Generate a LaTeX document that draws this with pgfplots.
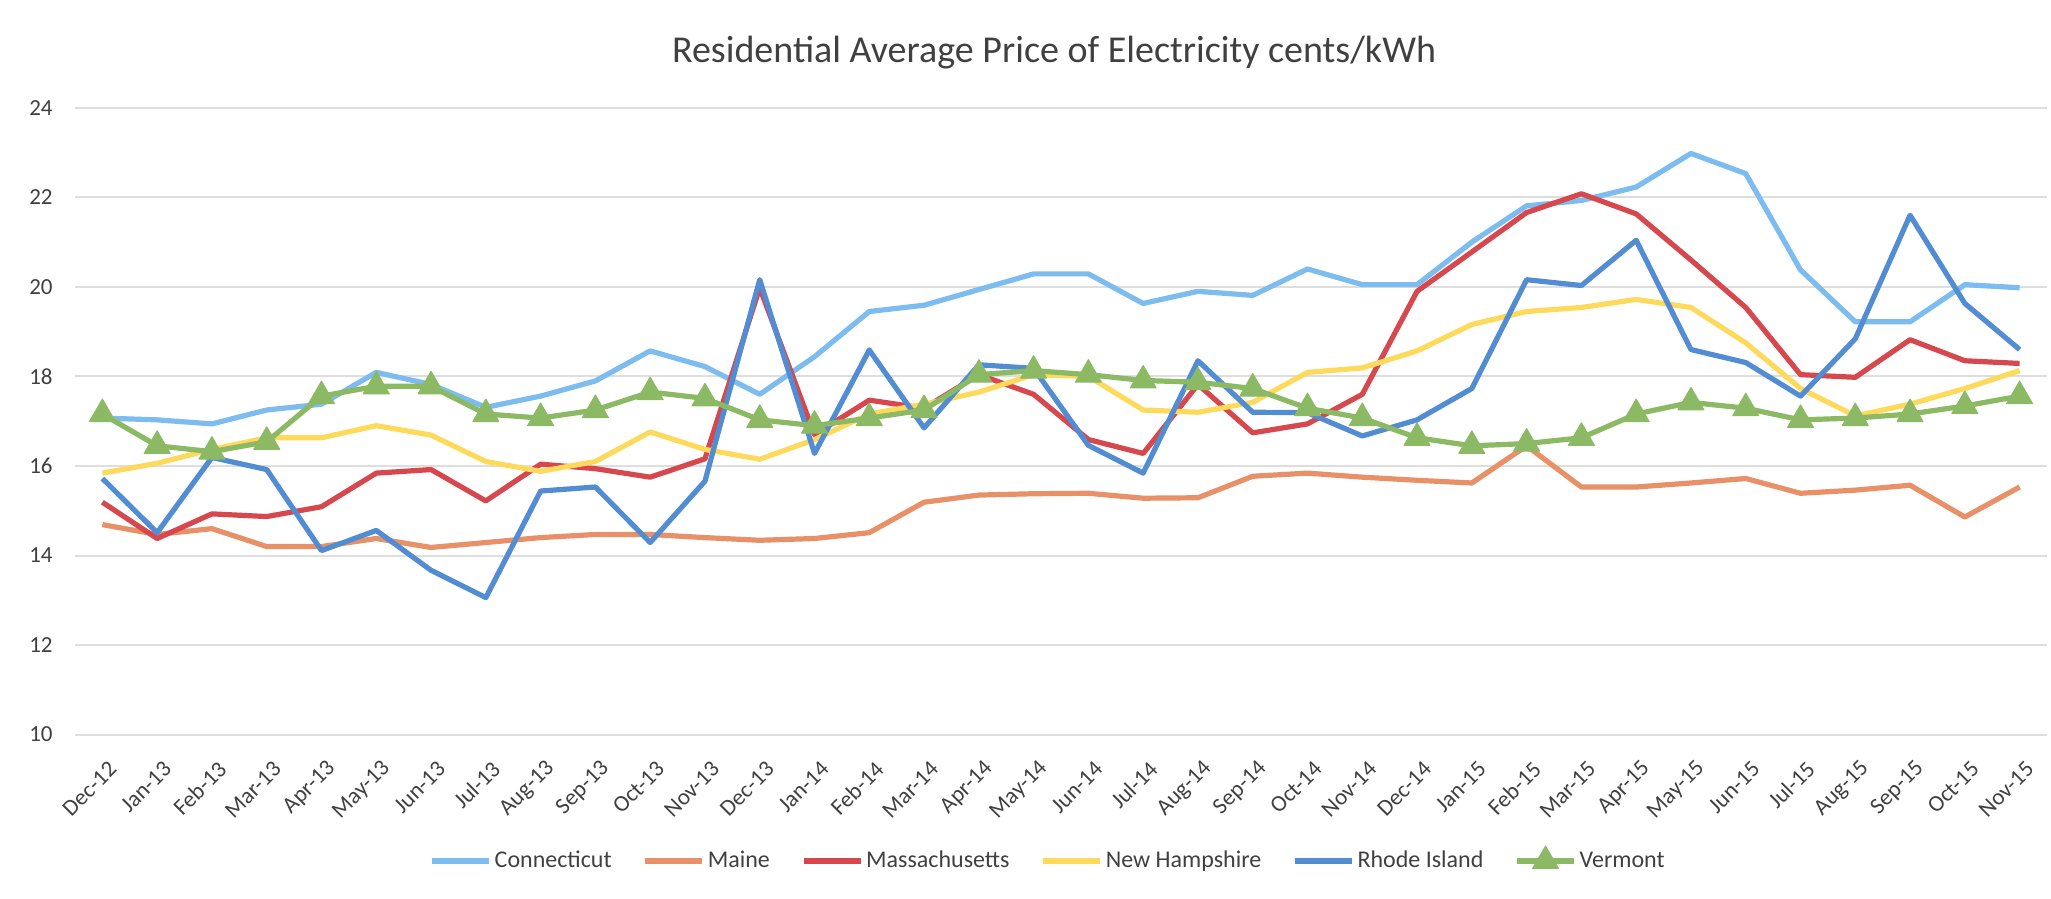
\documentclass[border=0pt]{standalone}
\usepackage{pgfplots}
\pgfplotsset{compat=1.18}
\usepackage{pgfplotstable}
\usepackage{fontspec}
\setmainfont{Carlito}
\definecolor{ct}{RGB}{125,188,238}
\definecolor{me}{RGB}{232,145,105}
\definecolor{ma}{RGB}{214,72,78}
\definecolor{nh}{RGB}{254,218,92}
\definecolor{ri}{RGB}{82,140,210}
\definecolor{vt}{RGB}{140,185,100}
\definecolor{gridc}{RGB}{222,222,222}
\definecolor{txt}{RGB}{64,64,64}
\pgfplotstableread{
i CT ME MA NH RI VT
0 17.07 14.69 15.19 15.84 15.72 17.16
1 17.03 14.47 14.38 16.06 14.51 16.45
2 16.94 14.60 14.93 16.37 16.19 16.32
3 17.25 14.20 14.87 16.63 15.92 16.54
4 17.38 14.20 15.09 16.63 14.11 17.56
5 18.09 14.38 15.84 16.90 14.56 17.78
6 17.82 14.18 15.92 16.69 13.67 17.78
7 17.31 14.29 15.22 16.10 13.06 17.16
8 17.56 14.40 16.04 15.88 15.44 17.07
9 17.90 14.47 15.94 16.10 15.53 17.25
10 18.57 14.47 15.75 16.76 14.29 17.65
11 18.22 14.40 16.16 16.37 15.66 17.51
12 17.60 14.34 19.98 16.15 20.16 17.03
13 18.44 14.38 16.70 16.59 16.28 16.90
14 19.45 14.51 17.47 17.16 18.59 17.07
15 19.59 15.19 17.29 17.38 16.85 17.25
16 19.94 15.35 18.04 17.65 18.26 18.04
17 20.29 15.38 17.60 18.04 18.18 18.13
18 20.29 15.39 16.59 18.00 16.46 18.04
19 19.63 15.28 16.28 17.25 15.84 17.91
20 19.90 15.29 17.82 17.20 18.35 17.87
21 19.81 15.77 16.74 17.42 17.20 17.73
22 20.40 15.84 16.94 18.09 17.19 17.29
23 20.05 15.75 17.60 18.19 16.67 17.07
24 20.05 15.68 19.90 18.57 17.03 16.63
25 21.00 15.62 20.78 19.16 17.73 16.45
26 21.81 16.45 21.66 19.45 20.16 16.50
27 21.93 15.53 22.08 19.54 20.03 16.63
28 22.23 15.53 21.63 19.72 21.04 17.16
29 22.98 15.62 20.60 19.54 18.60 17.42
30 22.53 15.72 19.54 18.75 18.31 17.29
31 20.38 15.39 18.04 17.73 17.56 17.03
32 19.22 15.46 17.98 17.12 18.84 17.07
33 19.22 15.57 18.82 17.38 21.60 17.16
34 20.05 14.86 18.35 17.73 19.63 17.34
35 19.98 15.53 18.29 18.13 18.60 17.56
}\data
\begin{document}
\begin{tikzpicture}
\path[use as bounding box] (0,0) rectangle (1025.5bp,449.5bp);
\node[font=\fontsize{19bp}{23bp}\selectfont, text=txt, inner sep=0pt] at (527bp,423bp) {Residential Average Price of Electricity cents/kWh};
\begin{axis}[
  at={(37.5bp,82.2bp)}, anchor=south west,
  scale only axis, width=986bp, height=313.4bp,
  xmin=-0.5, xmax=35.5, ymin=10, ymax=24,
  ytick={10,12,...,24},
  xtick={0,...,35},
  xticklabels={Dec-12,Jan-13,Feb-13,Mar-13,Apr-13,May-13,Jun-13,Jul-13,Aug-13,Sep-13,Oct-13,Nov-13,Dec-13,Jan-14,Feb-14,Mar-14,Apr-14,May-14,Jun-14,Jul-14,Aug-14,Sep-14,Oct-14,Nov-14,Dec-14,Jan-15,Feb-15,Mar-15,Apr-15,May-15,Jun-15,Jul-15,Aug-15,Sep-15,Oct-15,Nov-15},
  ymajorgrids, grid style={gridc, line width=1bp},
  axis line style={draw=none}, major tick length=0pt,
  tick label style={font=\fontsize{11.5bp}{14bp}\selectfont, text=txt},
  /pgf/number format/assume math mode=true,
  yticklabel style={anchor=east, inner sep=0pt, xshift=-11bp},
  xticklabel style={xshift=5.3bp, yshift=-15.3bp, rotate=45, anchor=east, inner sep=0pt},
  legend columns=6,
  legend style={at={(0.4937,-0.2)}, anchor=center, draw=none, fill=none,
    font=\fontsize{12bp}{14bp}\selectfont, text=txt,
    /tikz/every even column/.append style={column sep=14bp},
    nodes={inner sep=1.5bp}},
  legend image code/.code={\draw[#1, mark repeat=2, mark phase=2] plot coordinates {(0bp,0bp) (14.25bp,0bp) (28.5bp,0bp)};},
  every axis plot/.append style={line width=2.6bp, line join=round},
]
\addplot[ct, no markers] table[x=i, y=CT] {\data};
\addlegendentry{Connecticut}
\addplot[me, no markers] table[x=i, y=ME] {\data};
\addlegendentry{Maine}
\addplot[ma, no markers] table[x=i, y=MA] {\data};
\addlegendentry{Massachusetts}
\addplot[nh, no markers] table[x=i, y=NH] {\data};
\addlegendentry{New Hampshire}
\addplot[ri, no markers] table[x=i, y=RI] {\data};
\addlegendentry{Rhode Island}
\addplot[vt, mark=triangle*, mark size=7.5bp, mark options={fill=vt, draw=vt, line width=0.5bp}] table[x=i, y=VT] {\data};
\addlegendentry{Vermont}
\end{axis}
\end{tikzpicture}
\end{document}
